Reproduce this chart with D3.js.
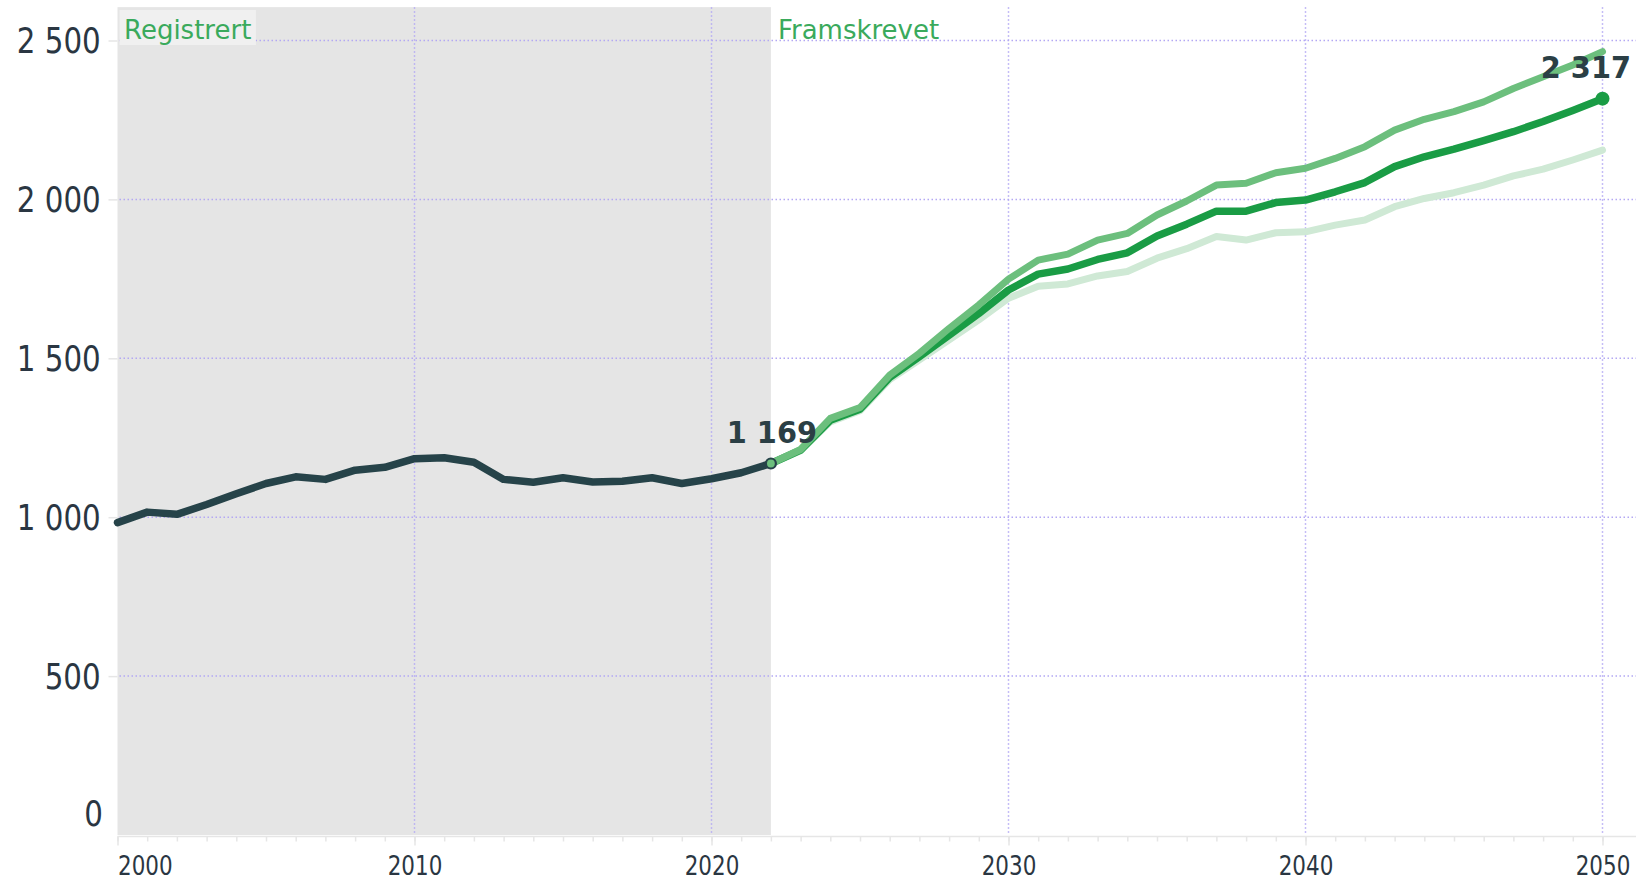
<!DOCTYPE html>
<html>
<head>
<meta charset="utf-8">
<script src="https://cdn.jsdelivr.net/npm/d3@7"></script>
<style>
  html, body { margin: 0; padding: 0; background: #ffffff; }
  svg { display: block; }
</style>
</head>
<body>
<svg id="chart" width="1636" height="882"></svg>
<script>
// ---- data ----
const histYears = d3.range(2000, 2023);
const registered = [983, 1016, 1009, 1040, 1074, 1106, 1127, 1119, 1148, 1157, 1184, 1187, 1173, 1119, 1110, 1124, 1111, 1113, 1124, 1106, 1121, 1140, 1169];

const projYears = d3.range(2022, 2051);
const projMain = [1169, 1211, 1305, 1340, 1440, 1505, 1573, 1641, 1715, 1765, 1781, 1811, 1832, 1885, 1922, 1963, 1963, 1990, 1998, 2024, 2053, 2103, 2134, 2158, 2185, 2213, 2245, 2280, 2317];
const projHigh = [1169, 1213, 1311, 1345, 1447, 1516, 1594, 1668, 1749, 1809, 1828, 1872, 1893, 1951, 1995, 2045, 2051, 2084, 2098, 2129, 2166, 2218, 2252, 2276, 2307, 2349, 2386, 2423, 2465];
const projLow  = [1169, 1209, 1300, 1335, 1433, 1495, 1558, 1621, 1689, 1727, 1734, 1759, 1773, 1815, 1845, 1883, 1872, 1895, 1898, 1919, 1935, 1977, 2003, 2021, 2045, 2074, 2095, 2124, 2155];

const yTicks = [0, 500, 1000, 1500, 2000, 2500];
const yTickLabels = ["0", "500", "1 000", "1 500", "2 000", "2 500"];
const xTicks = [2000, 2010, 2020, 2030, 2040, 2050];
const xTickLabels = ["2000", "2010", "2020", "2030", "2040", "2050"];
const sectionLabels = ["Registrert", "Framskrevet"];
const splitYear = 2022;

// ---- layout ----
const W = 1636, H = 882;
const plotLeft = 117.5, plotRight = 1636, plotBottom = 835;
const x = d3.scaleLinear().domain([2000, 2050]).range([117.5, 1602.5]);
const y = d3.scaleLinear().domain([0, 2500]).range([plotBottom, 40.5]);
const plotTop = y(2605);

const C = {
  shade: "#e5e5e5",
  grid: "#b3a8f3",
  hist: "#264349",
  main: "#1a9c45",
  high: "#6cbf7d",
  low: "#cfe9d5",
  green: "#3aaa5c",
  label: "#2b3f45",
  axisText: "#2a3642",
  axisLine: "#e6e6e6"
};

const svg = d3.select("#chart");

// shaded registered period
svg.append("rect")
  .attr("x", x(2000)).attr("y", plotTop)
  .attr("width", x(splitYear) - x(2000)).attr("height", plotBottom - plotTop)
  .attr("fill", C.shade);

// horizontal grid
svg.append("g").selectAll("line").data(yTicks.filter(d => d > 0)).join("line")
  .attr("x1", plotLeft + 2).attr("x2", plotRight)
  .attr("y1", d => y(d)).attr("y2", d => y(d))
  .attr("stroke", C.grid).attr("stroke-width", 1.5).attr("stroke-dasharray", "1.5,2.5");

// vertical grid
svg.append("g").selectAll("line").data(xTicks.filter(d => d > 2000)).join("line")
  .attr("x1", d => x(d)).attr("x2", d => x(d))
  .attr("y1", plotTop).attr("y2", plotBottom)
  .attr("stroke", C.grid).attr("stroke-width", 1.5).attr("stroke-dasharray", "1.5,2.5");

// x axis line
svg.append("line")
  .attr("x1", plotLeft).attr("x2", plotRight)
  .attr("y1", plotBottom + 1.5).attr("y2", plotBottom + 1.5)
  .attr("stroke", C.axisLine).attr("stroke-width", 1.5);

// x axis: minor ticks every year
const xMinor = svg.append("g").attr("transform", `translate(0,${plotBottom + 1.5})`)
  .call(d3.axisBottom(x).tickValues(d3.range(2000, 2051)).tickSize(5).tickFormat(""));
xMinor.select(".domain").remove();
xMinor.selectAll("line").attr("stroke", C.axisLine).attr("stroke-width", 1.5);

// x axis: major ticks with labels
const sxX = 0.81;
const xAxis = svg.append("g").attr("transform", `translate(0,${plotBottom + 1.5})`)
  .call(d3.axisBottom(x).tickValues(xTicks).tickSize(9)
    .tickFormat((d, i) => xTickLabels[i]));
xAxis.select(".domain").remove();
xAxis.selectAll("line").attr("stroke", C.axisLine).attr("stroke-width", 1.5);
xAxis.selectAll("text")
  .attr("font-family", "'DejaVu Sans', sans-serif")
  .attr("font-size", 26.5)
  .attr("fill", C.axisText)
  .attr("dy", null)
  .attr("y", 38.5)
  .attr("text-anchor", (d, i) => i === 0 ? "start" : "middle")
  .attr("transform", `scale(${sxX},1)`);

// y axis
const sxY = 0.815;
const yAxis = svg.append("g").attr("transform", `translate(${plotLeft},0)`)
  .call(d3.axisLeft(y).tickValues(yTicks).tickSize(9)
    .tickFormat((d, i) => yTickLabels[i]));
yAxis.select(".domain").remove();
yAxis.selectAll("line").attr("stroke", C.axisLine).attr("stroke-width", 1.5)
  .attr("display", d => d === 0 ? "none" : null);
yAxis.selectAll("text")
  .attr("font-family", "'DejaVu Sans', sans-serif")
  .attr("font-size", 36)
  .attr("fill", C.axisText)
  .attr("x", d => (d === 0 ? -14.5 : -16.8) / sxY)
  .attr("dy", null)
  .attr("y", d => d === 0 ? -9.5 : 12)
  .attr("transform", `scale(${sxY},1)`);

// section labels
const regText = svg.append("text")
  .attr("x", 124).attr("y", 38.5)
  .attr("font-family", "'DejaVu Sans', sans-serif")
  .attr("font-size", 26)
  .attr("fill", C.green)
  .text(sectionLabels[0]);
const bb = regText.node().getBBox();
svg.insert("rect", () => regText.node())
  .attr("x", bb.x - 4.5).attr("y", 10)
  .attr("width", bb.width + 9).attr("height", 35)
  .attr("fill", "#f0f0f0");

svg.append("text")
  .attr("x", x(splitYear) + 7).attr("y", 38.5)
  .attr("font-family", "'DejaVu Sans', sans-serif")
  .attr("font-size", 26)
  .attr("fill", C.green)
  .text(sectionLabels[1]);

// lines
const line = d3.line().x(d => x(d[0])).y(d => y(d[1])).curve(d3.curveLinear);
function drawLine(years, vals, color, width) {
  svg.append("path")
    .datum(years.map((yr, i) => [yr, vals[i]]))
    .attr("d", line)
    .attr("fill", "none")
    .attr("stroke", color)
    .attr("stroke-width", width)
    .attr("stroke-linejoin", "round")
    .attr("stroke-linecap", "round");
}
drawLine(histYears, registered, C.hist, 7.5);
drawLine(projYears, projLow, C.low, 7);
drawLine(projYears, projMain, C.main, 7.5);
drawLine(projYears, projHigh, C.high, 7);

// markers
const lastHist = registered[registered.length - 1];
svg.append("circle")
  .attr("cx", x(splitYear)).attr("cy", y(lastHist)).attr("r", 5)
  .attr("fill", C.high).attr("stroke", C.hist).attr("stroke-width", 2.2);
const lastMain = projMain[projMain.length - 1];
svg.append("circle")
  .attr("cx", x(2050)).attr("cy", y(lastMain)).attr("r", 7)
  .attr("fill", C.main);

// value labels
const fmt = v => d3.format(",")(v).replace(/,/g, " ");
const sxV = 0.93;
svg.append("text")
  .attr("transform", `translate(${x(splitYear) + 1},${y(lastHist) - 20.5}) scale(${sxV},1)`)
  .attr("text-anchor", "middle")
  .attr("font-family", "'DejaVu Sans', sans-serif")
  .attr("font-weight", "bold")
  .attr("font-size", 31)
  .attr("fill", C.label)
  .text(fmt(lastHist));
svg.append("text")
  .attr("transform", `translate(${W - 5},${y(lastMain) - 20.5}) scale(${sxV},1)`)
  .attr("text-anchor", "end")
  .attr("font-family", "'DejaVu Sans', sans-serif")
  .attr("font-weight", "bold")
  .attr("font-size", 31)
  .attr("fill", C.label)
  .text(fmt(lastMain));
</script>
</body>
</html>
